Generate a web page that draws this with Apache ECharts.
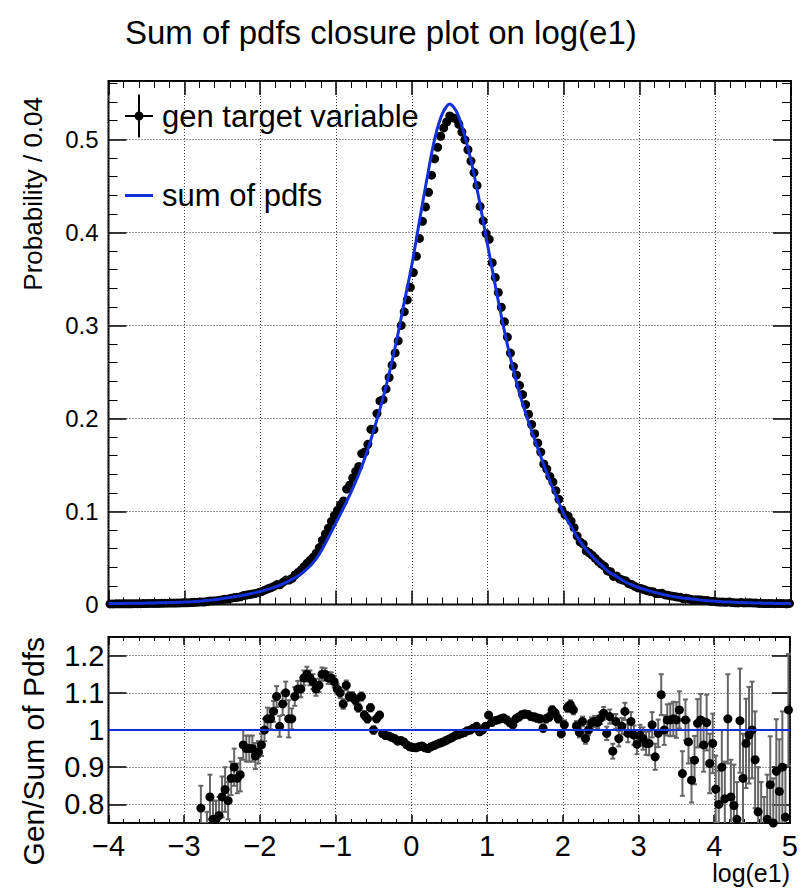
<!DOCTYPE html>
<html>
<head>
<meta charset="utf-8">
<script src="https://cdn.jsdelivr.net/npm/echarts@6/dist/echarts.min.js"></script>
<style>
html,body{margin:0;padding:0;background:#fff;}
#chart{width:801px;height:888px;}
</style>
</head>
<body>
<div id="chart"></div>
<script>
// ---- data ----
const titleText = 'Sum of pdfs closure plot on log(e1)';
const xTitle = 'log(e1)';
const yTitleTop = 'Probability / 0.04';
const yTitleBottom = 'Gen/Sum of Pdfs';
const legendNames = ['gen target variable', 'sum of pdfs'];

const binStart = -4, binWidth = 0.04;      // histogram binning
const pdfStart = -4, pdfStep = 0.1;        // sampling of the sum-of-pdfs curve

// sum of pdfs, sampled at x = -4.0, -3.9, ..., 5.0
const pdfValues = [
  0.0010,0.0011,0.0012,0.0013,0.0014,0.0015,0.0017,0.0019,0.0021,0.0023,
  0.0026,0.0030,0.0035,0.0042,0.0052,0.0063,0.0075,0.0088,0.0103,0.0120,
  0.0140,0.0163,0.0190,0.0222,0.0262,0.0310,0.0370,0.0450,0.0570,0.0720,
  0.0880,0.1040,0.1210,0.1400,0.1620,0.1880,0.2160,0.2480,0.2840,0.3250,
  0.3650,0.4120,0.4580,0.5000,0.5270,0.5380,0.5280,0.5030,0.4700,0.4300,
  0.3860,0.3430,0.3020,0.2650,0.2330,0.2060,0.1820,0.1590,0.1370,0.1170,
  0.0980,0.0840,0.0700,0.0590,0.0500,0.0420,0.0350,0.0300,0.0250,0.0210,
  0.0180,0.0155,0.0130,0.0110,0.0093,0.0078,0.0067,0.0058,0.0049,0.0041,
  0.0035,0.0030,0.0026,0.0022,0.0019,0.0017,0.0015,0.0013,0.0012,0.0011,
  0.0010
];

// gen target variable, one value per 0.04 bin (225 bins, -4 .. 5)
const genValues = [
  .0006,.0006,.0007,.0007,.0007,.0008,.0008,.0008,.0009,.0009,
  .0009,.0010,.0010,.0011,.0011,.0012,.0012,.0013,.0014,.0014,
  .0015,.0015,.0016,.0017,.0018,.0019,.0020,.0021,.0023,.0025,
  .0028,.0027,.0031,.0038,.0038,.0041,.0045,.0052,.0057,.0059,
  .0068,.0075,.0077,.0083,.0096,.0101,.0107,.0114,.0119,.0128,
  .0139,.0154,.0168,.0179,.0194,.0214,.0211,.0238,.0262,.0262,
  .0280,.0317,.0344,.0371,.0408,.0444,.0477,.0509,.0553,.0612,
  .0690,.0759,.0821,.0894,.0958,.1012,.1074,.1113,.1241,.1282,
  .1360,.1430,.1484,.1622,.1639,.1722,.1883,.1880,.2052,.2188,
  .2202,.2317,.2440,.2572,.2704,.2834,.3000,.3146,.3274,.3409,
  .3568,.3743,.3935,.4119,.4273,.4431,.4615,.4790,.4914,.5033,
  .5123,.5187,.5251,.5233,.5221,.5162,.5079,.4995,.4888,.4766,
  .4643,.4505,.4279,.4124,.3987,.3925,.3674,.3516,.3354,.3195,
  .3040,.2874,.2703,.2557,.2466,.2356,.2257,.2149,.2046,.1935,
  .1836,.1736,.1638,.1510,.1456,.1377,.1318,.1223,.1131,.1016,
  .0965,.0950,.0897,.0826,.0736,.0673,.0649,.0576,.0554,.0528,
  .0495,.0461,.0433,.0410,.0361,.0352,.0302,.0307,.0274,.0263,
  .0254,.0224,.0215,.0195,.0179,.0173,.0161,.0149,.0140,.0137,
  .0117,.0117,.0120,.0103,.0099,.0092,.0087,.0080,.0078,.0062,
  .0067,.0059,.0050,.0050,.0052,.0048,.0042,.0042,.0035,.0035,
  .0029,.0026,.0027,.0023,.0028,.0021,.0019,.0017,.0022,.0017,
  .0018,.0018,.0017,.0015,.0012,.0011,.0010,.0010,.0011,.0009,
  .0011,.0010,.0010,.0008,.0011
];

// ratio gen / sum of pdfs per bin (null: not shown)
const ratioValues = [
  null,null,null,null,null,null,null,null,null,null,
  null,null,null,null,null,null,null,null,null,null,
  null,null,null,null,null,null,null,null,null,null,
  .79,.70,.73,.82,.76,.76,.77,.82,.84,.81,
  .87,.90,.87,.88,.96,.95,.95,.95,.93,.94,
  .96,1.00,1.03,1.03,1.05,1.09,1.01,1.07,1.10,1.03,
  1.03,1.09,1.11,1.11,1.14,1.15,1.14,1.13,1.11,1.12,
  1.15,1.15,1.14,1.14,1.13,1.11,1.10,1.07,1.12,1.09,
  1.09,1.08,1.06,1.09,1.04,1.03,1.06,1.00,1.03,1.04,
  .99,.985,.984,.98,.977,.97,.972,.968,.96,.955,
  .953,.952,.955,.957,.952,.95,.955,.958,.962,.965,
  .968,.972,.976,.98,.985,.987,.99,.993,.998,1.0,
  1.005,1.01,.995,1.0,1.01,1.04,1.02,1.025,1.027,1.03,
  1.032,1.027,1.02,1.014,1.03,1.035,1.041,1.043,1.042,1.036,
  1.035,1.032,1.03,1.005,1.03,1.035,1.054,1.045,1.03,.99,
  1.014,1.06,1.068,1.054,1.011,.993,1.023,.977,1.0,1.02,
  1.023,1.02,1.032,1.045,.991,1.036,.943,1.023,.977,1.01,
  1.05,.991,1.023,.986,.962,.986,.977,.964,.964,1.014,
  .928,.991,1.095,1.0,1.027,1.027,1.03,1.027,1.054,.883,
  1.027,.968,.865,.919,1.018,1.027,.96,1.02,.91,.964,
  .841,.80,.90,.815,1.03,.82,.797,.76,1.025,.87,
  .964,.986,1.0,.92,.78,.74,.70,.76,.853,.75,
  .889,.835,.90,.766,1.054
];

// ratio uncertainty per bin
const ratioErrors = [
  null,null,null,null,null,null,null,null,null,null,
  null,null,null,null,null,null,null,null,null,null,
  null,null,null,null,null,null,null,null,null,null,
  .06,.05,.05,.06,.05,.05,.05,.055,.06,.05,
  .045,.05,.04,.045,.04,.035,.035,.035,.035,.03,
  .03,.03,.03,.028,.028,.028,.028,.03,.03,.05,
  .028,.025,.022,.022,.02,.02,.02,.02,.018,.018,
  .018,.016,.016,.015,.015,.014,.014,.013,.013,.012,
  .012,.012,.011,.011,.011,.01,.01,.01,.009,.009,
  .008,.008,.008,.008,.008,.008,.008,.008,.008,.008,
  .008,.008,.008,.008,.008,.008,.008,.008,.008,.008,
  .008,.008,.008,.008,.008,.008,.008,.008,.008,.008,
  .008,.008,.008,.008,.008,.008,.008,.008,.008,.008,
  .009,.009,.009,.009,.009,.009,.009,.009,.009,.009,
  .01,.01,.01,.01,.01,.01,.01,.01,.01,.01,
  .012,.012,.012,.012,.013,.013,.013,.014,.014,.014,
  .015,.015,.016,.017,.018,.019,.02,.02,.021,.022,
  .023,.024,.025,.026,.027,.028,.03,.031,.032,.034,
  .035,.037,.055,.04,.042,.044,.046,.048,.05,.06,
  .055,.058,.06,.065,.065,.07,.072,.075,.08,.08,
  .09,.09,.1,.1,.12,.1,.11,.1,.14,.12,
  .12,.13,.13,.13,.12,.12,.12,.12,.13,.12,
  .14,.14,.15,.14,.15
];

// axis ranges / ticks
const xMin = -4, xMax = 5, xInterval = 1;
const yTopMin = 0, yTopMax = 0.5627, yTopInterval = 0.1;
const yBotMin = 0.75, yBotMax = 1.25, yBotRef = 1;

// ---- build ----
const FONT = '"Liberation Sans", Arial, Helvetica, sans-serif';
const BLUE = '#1430d8';
const binCenters = genValues.map((_, i) => +(binStart + binWidth * (i + 0.5)).toFixed(3));
const pdfX = pdfValues.map((_, i) => +(pdfStart + pdfStep * i).toFixed(2));
const pdfData = pdfValues.map((v, i) => [pdfX[i], v]);
const genData = genValues.map((v, i) => [binCenters[i], v]);
const ratioData = [];
const errData = [];
ratioValues.forEach((v, i) => {
  if (v == null) return;
  ratioData.push([binCenters[i], v]);
  errData.push([binCenters[i], v, ratioErrors[i]]);
});

const gridLine = {show: true, lineStyle: {color: '#3a3a3a', type: [1, 2], width: 1}};
const minus = v => (v < 0 ? '\u2212' + Math.abs(v) : String(v));
const GEN_ICON = 'path://M13,0h2v43h-2zM0,20.5h28v2h-28zM9.5,21.5a4.5,4.5 0 1,1 9,0a4.5,4.5 0 1,1 -9,0z';
const noLine = {show: false, onZero: false};

function xAx(grid, pos, opts) {
  return Object.assign({
    gridIndex: grid, type: 'value', position: pos, min: xMin, max: xMax, interval: xInterval,
    axisLine: noLine,
    axisTick: {show: true, inside: true, length: 14, lineStyle: {color: '#000', width: 1.5}},
    minorTick: {show: true, splitNumber: 5, length: 7, lineStyle: {color: '#000', width: 1}},
    axisLabel: {show: false},
    splitLine: {show: false}
  }, opts);
}

const chart = echarts.init(document.getElementById('chart'), null, {renderer: 'svg'});
chart.setOption({
  backgroundColor: '#fff',
  animation: false,
  title: {
    text: titleText, left: 125, top: 16, padding: 0,
    textStyle: {fontSize: 33, fontWeight: 'normal', fontFamily: FONT, color: '#000'}
  },
  legend: [
    {
      data: [{name: legendNames[0], icon: GEN_ICON, itemStyle: {color: '#000', borderWidth: 0}}],
      left: 125, top: 94.5, padding: 0, orient: 'vertical',
      itemWidth: 28, itemHeight: 43, selectedMode: false,
      textStyle: {fontSize: 31, fontFamily: FONT, color: '#000', padding: [0, 0, 0, 4]}
    },
    {
      data: [{name: legendNames[1], icon: 'rect', itemStyle: {color: BLUE, borderWidth: 0}}],
      left: 125, top: 180, padding: 0, orient: 'vertical',
      itemWidth: 28, itemHeight: 3, selectedMode: false,
      textStyle: {fontSize: 31, fontFamily: FONT, color: '#000', padding: [0, 0, 0, 4]}
    }
  ],
  grid: [
    {left: 108.5, right: 10, top: 81, height: 523.5, show: true, borderColor: '#000', borderWidth: 2, backgroundColor: 'transparent'},
    {left: 108.5, right: 10, top: 637, height: 186, show: true, borderColor: '#000', borderWidth: 2, backgroundColor: 'transparent'}
  ],
  xAxis: [
    xAx(0, 'bottom', {splitLine: gridLine}),
    xAx(0, 'top', {}),
    xAx(1, 'bottom', {
      splitLine: gridLine,
      axisTick: {show: true, inside: true, length: 8, lineStyle: {color: '#000', width: 1.5}},
      minorTick: {show: true, splitNumber: 5, length: 4, lineStyle: {color: '#000', width: 1}},
      axisLabel: {show: true, fontSize: 29, fontFamily: FONT, color: '#000', margin: 8, formatter: minus}
    }),
    xAx(1, 'top', {
      axisTick: {show: true, inside: true, length: 8, lineStyle: {color: '#000', width: 1.5}},
      minorTick: {show: true, splitNumber: 5, length: 4, lineStyle: {color: '#000', width: 1}}
    })
  ],
  yAxis: [
    {
      gridIndex: 0, type: 'value', position: 'left', min: yTopMin, max: yTopMax, interval: yTopInterval,
      axisLine: noLine,
      axisTick: {show: true, inside: true, length: 18, lineStyle: {color: '#000', width: 1.5}},
      minorTick: {show: true, splitNumber: 5, length: 9, lineStyle: {color: '#000', width: 1}},
      axisLabel: {show: true, fontSize: 24, fontFamily: FONT, color: '#000', margin: 10, showMaxLabel: false,
        formatter: v => String(+v.toFixed(2))},
      splitLine: gridLine
    },
    {
      gridIndex: 0, type: 'value', position: 'right', min: yTopMin, max: yTopMax, interval: yTopInterval,
      axisLine: noLine,
      axisTick: {show: true, inside: true, length: 18, lineStyle: {color: '#000', width: 1.5}},
      minorTick: {show: true, splitNumber: 5, length: 9, lineStyle: {color: '#000', width: 1}},
      axisLabel: {show: false}, splitLine: {show: false}
    },
    {
      gridIndex: 1, type: 'value', position: 'left', min: yBotMin, max: yBotMax, splitNumber: 5,
      axisLine: noLine,
      axisTick: {show: true, inside: true, length: 18, lineStyle: {color: '#000', width: 1.5}},
      axisLabel: {show: true, fontSize: 29, fontFamily: FONT, color: '#000', margin: 4,
        showMinLabel: false, showMaxLabel: false, formatter: v => String(+v.toFixed(2))},
      splitLine: gridLine
    },
    {
      gridIndex: 1, type: 'value', position: 'right', min: yBotMin, max: yBotMax, splitNumber: 5,
      axisLine: noLine,
      axisTick: {show: true, inside: true, length: 18, lineStyle: {color: '#000', width: 1.5}},
      axisLabel: {show: false}, splitLine: {show: false}
    }
  ],
  graphic: [
    {type: 'text', x: 33, y: 97, rotation: Math.PI / 2,
      style: {text: yTitleTop, fontSize: 26, fontFamily: FONT, fill: '#000', align: 'right', verticalAlign: 'middle'}},
    {type: 'text', x: 33, y: 637, rotation: Math.PI / 2,
      style: {text: yTitleBottom, fontSize: 30, fontFamily: FONT, fill: '#000', align: 'right', verticalAlign: 'middle'}},
    {type: 'text', x: 790, y: 873,
      style: {text: xTitle, fontSize: 25, fontFamily: FONT, fill: '#000', align: 'right', verticalAlign: 'middle'}}
  ],
  series: [
    {
      name: legendNames[0], type: 'scatter', xAxisIndex: 0, yAxisIndex: 0,
      data: genData, symbol: 'circle', symbolSize: 9,
      itemStyle: {color: '#000', opacity: 1}, z: 3
    },
    {
      name: legendNames[1], type: 'line', xAxisIndex: 0, yAxisIndex: 0,
      data: pdfData, smooth: 0.3, showSymbol: false, symbol: 'none',
      lineStyle: {color: BLUE, width: 3}, itemStyle: {color: BLUE}, z: 4
    },
    {
      name: 'ratio errors', type: 'custom', xAxisIndex: 2, yAxisIndex: 2, clip: true,
      data: errData, encode: {x: 0, y: 1}, z: 2,
      renderItem: function (params, api) {
        const x = api.value(0), y = api.value(1), e = api.value(2);
        const t = api.coord([x, y + e]), b = api.coord([x, y - e]);
        const cap = 2.5, st = {stroke: '#666666', lineWidth: 2};
        return {type: 'group', children: [
          {type: 'line', shape: {x1: t[0], y1: t[1], x2: b[0], y2: b[1]}, style: st},
          {type: 'line', shape: {x1: t[0] - cap, y1: t[1], x2: t[0] + cap, y2: t[1]}, style: st},
          {type: 'line', shape: {x1: b[0] - cap, y1: b[1], x2: b[0] + cap, y2: b[1]}, style: st}
        ]};
      }
    },
    {
      name: 'ratio', type: 'scatter', xAxisIndex: 2, yAxisIndex: 2,
      data: ratioData, symbol: 'circle', symbolSize: 9, clip: true,
      itemStyle: {color: '#000', opacity: 1}, z: 3,
      markLine: {
        silent: true, symbol: ['none', 'none'], label: {show: false},
        lineStyle: {color: BLUE, width: 2, type: 'solid'},
        data: [{yAxis: yBotRef}]
      }
    }
  ]
});
</script>
</body>
</html>
